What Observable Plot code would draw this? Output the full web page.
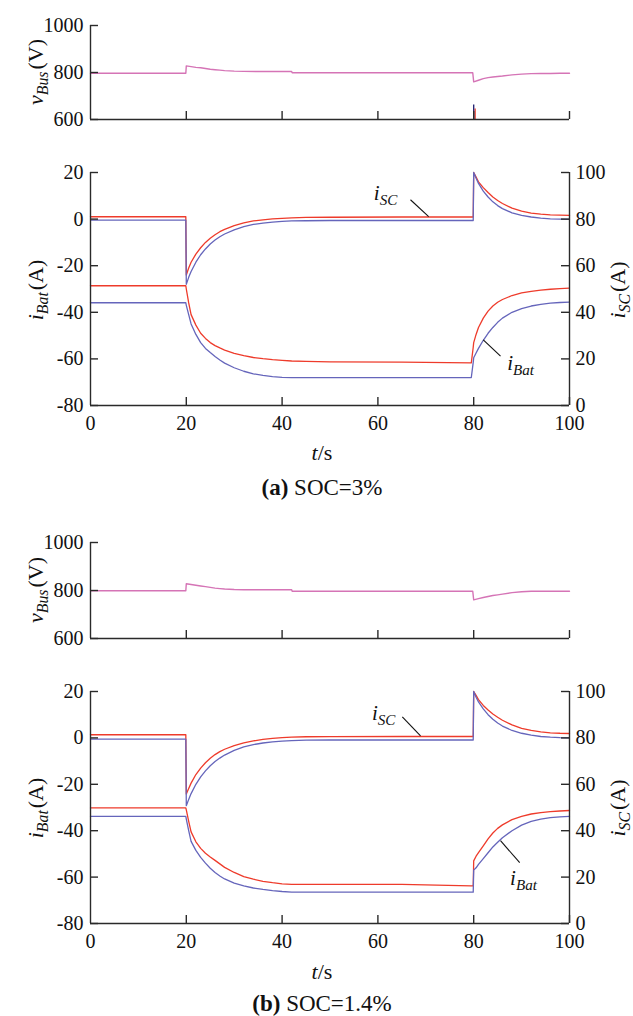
<!DOCTYPE html>
<html><head><meta charset="utf-8">
<script src="https://cdn.jsdelivr.net/npm/d3@7"></script>
<script src="https://cdn.jsdelivr.net/npm/@observablehq/plot@0.6"></script>
<style>
html,body{margin:0;padding:0;background:#fff;}
#root{position:relative;width:633px;height:1016px;font-family:"Liberation Serif","DejaVu Serif",serif;color:#111;overflow:hidden;}
#root svg{position:absolute;left:0;}
.cap{position:absolute;left:322px;transform:translateX(-50%);white-space:nowrap;line-height:1;}
</style></head><body><div id="root"></div>
<script>
// ---------- data ----------
const ticksX = [0, 20, 40, 60, 80, 100];
const ticksXInner = [20, 40, 60, 80, 100];
const ticksBus = [600, 800, 1000];
const ticksBat = [-80, -60, -40, -20, 0, 20];
const scOffset = 80; // i_SC axis 0..100 aligned with i_Bat axis -80..20

const tBus = [0, 19.9, 20, 21, 22, 23, 24, 25, 26, 27, 28, 30, 32, 35, 42, 42.1, 79.8, 80, 81, 82, 83, 84, 85, 86, 88, 90, 92, 94, 96, 98, 100];
const vBusA = [797, 797, 828, 825, 822, 820, 817, 814, 812, 810, 808, 806, 805, 804, 804, 799, 799, 760, 767, 774, 778, 781, 783, 785, 790, 793, 795, 796, 796, 797, 797];
const vBusB = [799, 799, 828, 825, 822, 819, 816, 813, 810, 808, 806, 804, 803, 803, 803, 797, 797, 761, 766, 771, 775, 779, 782, 785, 791, 795, 797, 797, 797, 797, 797];
const spikeT = [80, 80.3];
const spikeTop = [662, 645];

const tI = [0, 19.9, 20, 20.5, 21, 22, 23, 24, 25, 26, 27, 28, 30, 32, 34, 36, 38, 40, 42, 45, 50, 65, 79.5, 79.9, 80, 80.5, 81, 82, 83, 84, 85, 86, 88, 90, 92, 94, 96, 98, 100];
// panel (a) SOC=3%
const iScRedA  = [81, 81, 56, 59, 61.5, 65, 67.7, 70, 71.8, 73.3, 74.6, 75.6, 77.2, 78.4, 79.2, 79.7, 80.1, 80.3, 80.5, 80.7, 80.8, 80.9, 80.9, 80.9, 100, 98, 96, 93.5, 91.4, 89.5, 88, 86.7, 84.7, 83.4, 82.6, 82.1, 81.8, 81.7, 81.6];
const iScBlueA = [79.6, 79.6, 52, 55, 57.5, 61.5, 64.7, 67.2, 69.3, 71, 72.4, 73.6, 75.4, 76.8, 77.7, 78.3, 78.7, 79, 79.2, 79.3, 79.4, 79.4, 79.4, 79.4, 100, 97.5, 95.3, 92, 89.5, 87.4, 85.8, 84.5, 82.7, 81.6, 80.9, 80.4, 80.1, 80, 79.9];
const iBatRedA = [-28.6, -28.6, -30, -36, -41, -45.5, -49, -51.2, -53, -54.3, -55.3, -56.2, -57.6, -58.6, -59.4, -59.9, -60.3, -60.6, -60.9, -61.1, -61.3, -61.4, -61.7, -55, -53, -49.5, -46.5, -42.5, -39.5, -37.3, -35.7, -34.5, -32.8, -31.7, -31, -30.5, -30.1, -29.8, -29.6];
const iBatBlueA = [-35.9, -35.9, -37, -41, -45, -49.5, -53, -55.5, -57.3, -59, -60.5, -61.8, -63.8, -65.3, -66.4, -67.1, -67.6, -67.9, -68, -68, -68, -68, -68, -61.5, -59.5, -57.5, -55.5, -52, -49, -46.5, -44.3, -42.5, -40, -38.4, -37.3, -36.6, -36.1, -35.8, -35.6];
// panel (b) SOC=1.4%
const iScRedB  = [81.35, 81.35, 55.8, 58.2, 60.5, 64.2, 67, 69.3, 71.2, 72.8, 74.1, 75.1, 76.7, 77.9, 78.7, 79.4, 79.8, 80.1, 80.3, 80.5, 80.55, 80.6, 80.6, 80.6, 100, 98.3, 96.5, 94, 92, 90.3, 88.9, 87.6, 85.6, 84.1, 83.2, 82.6, 82.2, 82, 81.9];
const iScBlueB = [79.5, 79.5, 50.8, 53.5, 56, 60, 63.2, 65.8, 68, 69.8, 71.3, 72.6, 74.6, 76.1, 77.1, 77.8, 78.3, 78.6, 78.8, 79, 79.1, 79.1, 79.1, 79.1, 100, 97.5, 95.5, 92.5, 90, 88, 86.4, 85.1, 83.2, 82, 81.2, 80.6, 80.3, 80.1, 80];
const iBatRedB = [-30.2, -30.2, -31, -36, -40.5, -44.8, -47.6, -49.7, -51.3, -52.8, -54.3, -55.8, -58, -59.8, -60.9, -61.8, -62.4, -62.9, -63.1, -63.1, -63.1, -63.1, -63.8, -63.8, -53, -51, -49.5, -46.5, -43.5, -41, -39, -37.5, -35.2, -33.8, -32.8, -32.2, -31.8, -31.5, -31.3];
const iBatBlueB = [-33.8, -33.8, -35, -40, -44.6, -48.5, -51.5, -54, -56.2, -58, -59.5, -60.8, -62.6, -63.8, -64.7, -65.3, -65.8, -66.2, -66.5, -66.5, -66.5, -66.5, -66.5, -66.5, -57, -56, -54.5, -52, -49.5, -47, -45, -43, -40, -37.6, -36, -35, -34.4, -34, -33.8];

// annotations (t, value on i_Bat axis)
const notesA = [{text: "i_SC", t: 61.6, v: 10.9}, {text: "i_Bat", t: 89.8, v: -62}];
const leadersA = [{t1: 66.8, v1: 8.3, t2: 70.6, v2: 1.1}, {t1: 85.6, v1: -58.8, t2: 82.0, v2: -51.8}];
const notesB = [{text: "i_SC", t: 61.2, v: 10.8}, {text: "i_Bat", t: 90.4, v: -60.5}];
const leadersB = [{t1: 65.1, v1: 9.1, t2: 68.9, v2: 0.9}, {t1: 89.6, v1: -53.8, t2: 85.6, v2: -44.3}];

// ---------- style ----------
const RED = "#ee3b2b", BLUE = "#6565bb", PINK = "#d574b6", AX = "#2a2a2a";
const FONT = "Liberation Serif, DejaVu Serif, serif";
const root = document.getElementById("root");

function rows(vals, t = tI) { return t.map((tt, i) => ({t: tt, v: vals[i]})); }

function subscriptify(svg) {
  d3.select(svg).selectAll("text").each(function () {
    const s = this.textContent;
    if (!s || !s.includes("_")) return;
    const [base, sub] = s.split("_");
    const sel = d3.select(this);
    sel.text(null);
    sel.append("tspan").text(base);
    sel.append("tspan").attr("dy", 5).attr("font-size", "0.72em").text(sub);
  });
}

function addTitle(svg, x, y, parts) {
  const t = d3.select(svg).append("text")
    .attr("transform", `translate(${x},${y}) rotate(-90)`)
    .attr("text-anchor", "middle").attr("font-size", 22).attr("fill", "#111")
    .attr("font-family", FONT);
  let shifted = 0;
  for (const p of parts) {
    const ts = t.append("tspan").text(p.s);
    if (p.it) ts.attr("font-style", "italic");
    if (p.sub) { ts.attr("font-size", "0.72em").attr("dy", 5); shifted = 5; }
    else if (shifted) { ts.attr("dy", -shifted).attr("dx", 2); shifted = 0; }
  }
}

function place(svg, top) { svg.style.top = top + "px"; root.appendChild(svg); return svg; }

const baseStyle = {fontFamily: FONT, fontSize: "20px", color: "#111", background: "transparent", overflow: "visible"};

function busPanel(vals, top, h, mt, mb, titleY, spike) {
  const marks = [
    Plot.lineY(rows(vals, tBus), {x: "t", y: "v", stroke: PINK, strokeWidth: 1.4}),
  ];
  if (spike) {
    marks.push(Plot.ruleX([spikeT[1]], {y1: 600, y2: spikeTop[1], stroke: RED, strokeWidth: 1.3}));
    marks.push(Plot.ruleX([spikeT[0]], {y1: 600, y2: spikeTop[0], stroke: "#1c1c6e", strokeWidth: 1.3}));
  }
  marks.push(
    Plot.ruleX([0], {stroke: AX, strokeWidth: 1.4}),
    Plot.ruleY([600], {stroke: AX, strokeWidth: 1.4}),
    Plot.ruleY(ticksBus, {x1: 0, x2: 0, insetRight: -8, stroke: AX, strokeWidth: 1.4}),
    Plot.ruleX(ticksXInner, {y1: 600, y2: 600, insetTop: -8, stroke: AX, strokeWidth: 1.4}),
    Plot.axisY({ticks: ticksBus, anchor: "left", tickSize: 0, tickPadding: 7, label: null, tickFormat: d => String(d)})
  );
  const svg = Plot.plot({
    width: 633, height: h, marginLeft: 90, marginRight: 64, marginTop: mt, marginBottom: mb,
    x: {domain: [0, 100], axis: null}, y: {domain: [600, 1000], axis: null},
    style: baseStyle,
    marks
  });
  place(svg, top);
  addTitle(svg, 43, titleY - top, [{s: "v", it: true}, {s: "Bus", it: true, sub: true}, {s: "(V)"}]);
  return svg;
}

function currentPanel(scR, scB, batR, batB, notes, leaders, top, h, mt, mb, titleY) {
  const sc = v => v - scOffset;
  const svg = Plot.plot({
    width: 633, height: h, marginLeft: 90, marginRight: 64, marginTop: mt, marginBottom: mb,
    x: {domain: [0, 100], axis: null}, y: {domain: [-80, 20], axis: null},
    style: baseStyle,
    marks: [
      Plot.lineY(rows(scR), {x: "t", y: d => sc(d.v), stroke: RED, strokeWidth: 1.3}),
      Plot.lineY(rows(batR), {x: "t", y: "v", stroke: RED, strokeWidth: 1.3}),
      Plot.lineY(rows(scB), {x: "t", y: d => sc(d.v), stroke: BLUE, strokeWidth: 1.3}),
      Plot.lineY(rows(batB), {x: "t", y: "v", stroke: BLUE, strokeWidth: 1.3}),
      Plot.ruleX([0, 100], {stroke: AX, strokeWidth: 1.4}),
      Plot.ruleY([-80], {stroke: AX, strokeWidth: 1.4}),
      Plot.ruleY(ticksBat, {x1: 0, x2: 0, insetRight: -8, stroke: AX, strokeWidth: 1.4}),
      Plot.ruleY(ticksBat, {x1: 100, x2: 100, insetLeft: -8, stroke: AX, strokeWidth: 1.4}),
      Plot.ruleX(ticksXInner, {y1: -80, y2: -80, insetTop: -8, stroke: AX, strokeWidth: 1.4}),
      Plot.axisY({ticks: ticksBat, anchor: "left", tickSize: 0, tickPadding: 7, label: null, tickFormat: d => String(d)}),
      Plot.axisY({ticks: ticksBat, anchor: "right", tickSize: 0, tickPadding: 6, label: null, tickFormat: d => String(d + scOffset)}),
      Plot.axisX({ticks: ticksX, anchor: "bottom", tickSize: 0, tickPadding: 10, label: null, tickFormat: d => String(d)}),
      Plot.link(leaders, {x1: "t1", y1: "v1", x2: "t2", y2: "v2", stroke: "#111", strokeWidth: 1.1}),
      Plot.text(notes, {x: "t", y: "v", text: "text", fontStyle: "italic", fontSize: 21, fill: "#111", textAnchor: "middle"})
    ]
  });
  place(svg, top);
  subscriptify(svg);
  addTitle(svg, 43, titleY - top, [{s: "i", it: true}, {s: "Bat", it: true, sub: true}, {s: "(A)"}]);
  addTitle(svg, 625, titleY - top, [{s: "i", it: true}, {s: "SC", it: true, sub: true}, {s: "(A)"}]);
  return svg;
}

function caption(html, centerY, size) {
  const d = document.createElement("div");
  d.className = "cap";
  d.style.fontSize = size + "px";
  d.style.top = (centerY - size * 0.5) + "px";
  d.innerHTML = html;
  root.appendChild(d);
}

busPanel(vBusA, 0, 135, 25, 16, 72, true);
currentPanel(iScRedA, iScBlueA, iBatRedA, iBatBlueA, notesA, leadersA, 140, 300, 32, 35, 290);
caption("<i>t</i>/s", 453, 22);
caption("<b>(a)</b> SOC=3%", 487, 23);

busPanel(vBusB, 520, 135, 22, 17, 590, false);
currentPanel(iScRedB, iScBlueB, iBatRedB, iBatBlueB, notesB, leadersB, 660, 300, 31, 37, 808);
caption("<i>t</i>/s", 972, 22);
caption("<b>(b)</b> SOC=1.4%", 1003, 23);
</script></body></html>
